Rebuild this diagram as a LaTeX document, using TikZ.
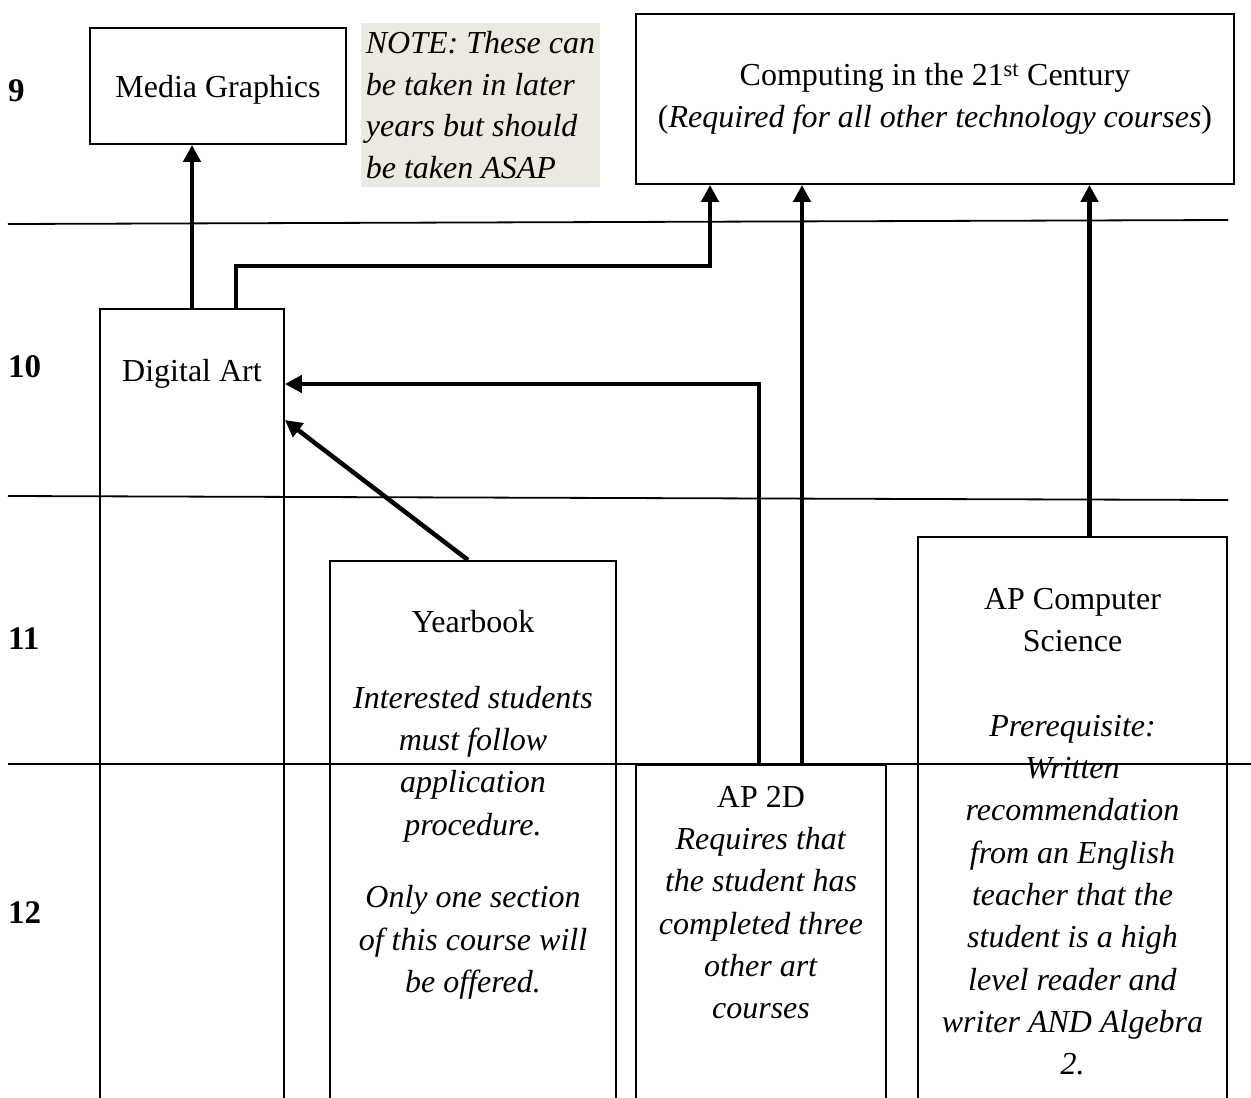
\documentclass[tikz,border=0pt]{standalone}
\usepackage{fontspec}
\setmainfont{Liberation Serif}
\usetikzlibrary{arrows.meta}
\definecolor{notebg}{HTML}{ECEAE0}
\begin{document}
\begin{tikzpicture}[x=1pt,y=-1pt,
  box/.style={draw, line width=1.8pt, inner sep=0pt},
  txt/.style={font=\fontsize{32}{42.3}\selectfont, align=center, inner sep=0pt},
  rowlbl/.style={font=\fontsize{33}{40}\selectfont\bfseries, anchor=west, inner sep=0pt},
  arr/.style={line width=4.5pt, -{Triangle[length=17pt,width=17pt]}},
  divider/.style={line width=1.8pt}]
\useasboundingbox (0,0) rectangle (1251,1098);
\clip (0,0) rectangle (1251,1098);

% row labels
\node[rowlbl] (r9) at (8,91) {9};
\node[rowlbl] (r10) at (8,367) {10};
\node[rowlbl] (r11) at (8,639) {11};
\node[rowlbl] (r12) at (8,913) {12};

% boxes
\node[box, minimum width=256pt, minimum height=116pt] (mg) at (218,86) {};
\node[fill=notebg, minimum width=239pt, minimum height=164pt, inner sep=0pt,
      align=left, font=\fontsize{32}{41.8}\selectfont\itshape] (note) at (480.5,105)
      {NOTE: These can\\be taken in later\\years but should\\be taken ASAP};
\node[box, txt, minimum width=598pt, minimum height=170pt] (cc) at (935,99)
      {Computing in the 21\textsuperscript{st} Century\\(\textit{Required for all other technology courses})};

\node[box, anchor=north, minimum width=184pt, minimum height=820pt] (da) at (192,308) {};
\node[box, anchor=north, minimum width=286pt, minimum height=560pt] (yb) at (473,560) {};
\node[box, anchor=north, minimum width=250pt, minimum height=350pt] (ap) at (761,764) {};
\node[box, anchor=north, minimum width=309pt, minimum height=580pt] (apcs) at (1072.5,536) {};

% box texts
\node[txt] (mgtxt) at (218,90) {Media Graphics};
\node[txt] (datxt) at (192,374) {Digital Art};
\node[txt, anchor=north] (ybtxt) at (473,610)
  {Yearbook\\[33.5pt]\textit{Interested students}\\\textit{must follow}\\\textit{application}\\\textit{procedure.}\\[30.5pt]\textit{Only one section}\\\textit{of this course will}\\\textit{be offered.}};
\node[txt, anchor=north] (aptxt) at (761,786)
  {AP 2D\\\textit{Requires that}\\\textit{the student has}\\\textit{completed three}\\\textit{other art}\\\textit{courses}};
\node[txt, anchor=north] (apcstxt) at (1072.5,588)
  {AP Computer\\Science\\[42.3pt]\textit{Prerequisite:}\\\textit{Written}\\\textit{recommendation}\\\textit{from an English}\\\textit{teacher that the}\\\textit{student is a high}\\\textit{level reader and}\\\textit{writer AND Algebra}\\\textit{2.}};

% dividers
\draw[divider] (8,224) -- (1228,220);
\draw[divider] (8,496) -- (1228,500);
\draw[divider] (8,764) -- (1251,764);

% connectors
\draw[arr] (da.north) -- (da.north |- mg.south);
\draw[arr] ([xshift=44pt]da.north) -- ++(0,-42) -| ([xshift=-225pt]cc.south);
\draw[arr] ([xshift=-2pt]ap.north) |- ([yshift=-76pt]da.north east);
\draw[arr] ([xshift=41pt]ap.north) -- ([xshift=41pt]ap.north |- cc.south);
\draw[arr] ([xshift=17pt]apcs.north) -- ([xshift=17pt]apcs.north |- cc.south);
\draw[arr] ([xshift=-5pt]yb.north) -- ([yshift=-112pt]da.north east);
\end{tikzpicture}
\end{document}
